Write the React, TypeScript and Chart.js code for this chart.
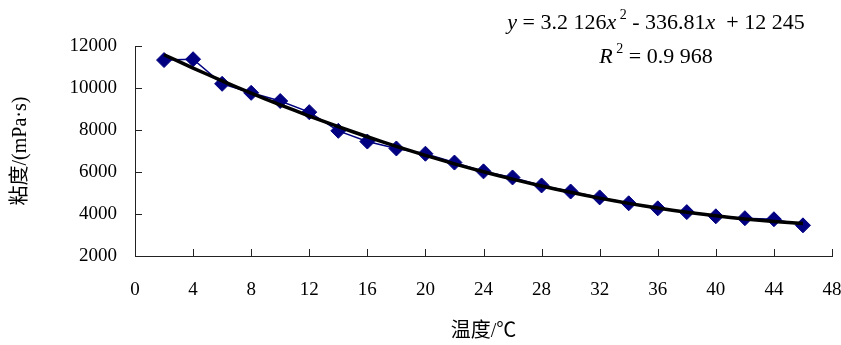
import React, { useEffect, useRef } from "react";
import { Chart, registerables } from "chart.js";

Chart.register(...registerables);

// ---- data ----
const temperatures = [2, 4, 6, 8, 10, 12, 14, 16, 18, 20, 22, 24, 26, 28, 30, 32, 34, 36, 38, 40, 42, 44, 46];
const viscosity = [11330, 11370, 10200, 9770, 9380, 8850, 7960, 7450, 7120, 6870, 6450, 6030, 5740, 5360, 5070, 4790, 4510, 4270, 4090, 3890, 3800, 3750, 3460];
// trendline values (y = 3.2126x^2 - 336.81x + 12245) at each temperature
const trendValues = [11584, 10949, 10340, 9756, 9198, 8666, 8159, 7679, 7223, 6794, 6390, 6012, 5660, 5333, 5032, 4757, 4507, 4283, 4085, 3913, 3766, 3644, 3550];
const xTickValues = [0, 4, 8, 12, 16, 20, 24, 28, 32, 36, 40, 44, 48];
const yTickValues = [2000, 4000, 6000, 8000, 10000, 12000];

const xTitle = "温度/℃";
const yTitle = "粘度/(mPa·s)";
const equationLine1 = [
  { t: "y", it: true },
  { t: " = 3.2 126" },
  { t: "x", it: true },
  { t: " 2", sup: true },
  { t: " - 336.81" },
  { t: "x", it: true },
  { t: "  + 12 245" },
];
const equationLine2 = [
  { t: "R", it: true },
  { t: " 2", sup: true },
  { t: " = 0.9 968" },
];

const SERIF = "'Liberation Serif', 'Times New Roman', serif";
const TITLE_FONT = "'Liberation Serif', 'Noto Sans CJK SC', serif";

const innerTicks = {
  id: "innerTicks",
  afterDraw(chart: any) {
    const { ctx, chartArea, scales } = chart;
    const x = scales.x;
    const y = scales.y;
    ctx.save();
    ctx.strokeStyle = "#222";
    ctx.lineWidth = 1;
    ctx.beginPath();
    x.ticks.forEach((t: any) => {
      const px = Math.round(x.getPixelForValue(t.value)) + 0.5;
      ctx.moveTo(px, chartArea.bottom);
      ctx.lineTo(px, chartArea.bottom - 7);
    });
    y.ticks.forEach((t: any) => {
      const py = Math.round(y.getPixelForValue(t.value)) + 0.5;
      ctx.moveTo(chartArea.left, py);
      ctx.lineTo(chartArea.left + 7, py);
    });
    ctx.stroke();
    ctx.restore();
  },
};

function drawRich(ctx: CanvasRenderingContext2D, parts: any[], cx: number, baseline: number, size: number) {
  const fontFor = (p: any) => {
    if (p.sup) return `${Math.round(size * 0.62)}px ${SERIF}`;
    return `${p.it ? "italic " : ""}${size}px ${SERIF}`;
  };
  let total = 0;
  const widths = parts.map((p) => {
    ctx.font = fontFor(p);
    const w = ctx.measureText(p.t).width;
    total += w;
    return w;
  });
  let xPos = cx - total / 2;
  parts.forEach((p, i) => {
    ctx.font = fontFor(p);
    ctx.fillText(p.t, xPos, p.sup ? baseline - size * 0.45 : baseline);
    xPos += widths[i];
  });
}

const equationLabel = {
  id: "equationLabel",
  afterDraw(chart: any) {
    const { ctx } = chart;
    ctx.save();
    ctx.fillStyle = "#000";
    ctx.textBaseline = "alphabetic";
    ctx.textAlign = "left";
    drawRich(ctx, equationLine1, 656, 29, 22);
    drawRich(ctx, equationLine2, 656, 63, 22);
    ctx.restore();
  },
};

export default function App() {
  const canvasRef = useRef<HTMLCanvasElement | null>(null);

  useEffect(() => {
    if (!canvasRef.current) return;
    const chart = new Chart(canvasRef.current, {
      type: "scatter",
      data: {
        datasets: [
          {
            label: "trend",
            data: temperatures.map((x, i) => ({ x, y: trendValues[i] })),
            showLine: true,
            borderColor: "#000",
            borderWidth: 3.5,
            pointRadius: 0,
            pointHoverRadius: 0,
            tension: 0.3,
          },
          {
            label: "viscosity",
            data: temperatures.map((x, i) => ({ x, y: viscosity[i] })),
            showLine: true,
            borderColor: "#000080",
            borderWidth: 1.5,
            pointStyle: "rectRot",
            pointRadius: 7.5,
            pointBackgroundColor: "#000080",
            pointBorderColor: "#000080",
            pointBorderWidth: 1,
          },
        ],
      },
      options: {
        responsive: false,
        animation: false,
        layout: { padding: { top: 46, right: 9, left: 0, bottom: 0 } },
        plugins: {
          legend: { display: false },
          tooltip: { enabled: false },
        },
        scales: {
          x: {
            type: "linear",
            min: 0,
            max: 48,
            afterBuildTicks: (scale: any) => {
              scale.ticks = xTickValues.map((v) => ({ value: v }));
            },
            afterFit: (scale: any) => {
              scale.height = 89;
              scale.paddingLeft = 0;
              scale.paddingRight = 0;
            },
            grid: { display: false, drawTicks: false },
            border: { display: true, color: "#222", width: 1 },
            ticks: {
              color: "#000",
              padding: 23,
              font: { family: SERIF, size: 19 },
              maxRotation: 0,
              autoSkip: false,
              callback: (v: any) => String(v),
            },
            title: {
              display: true,
              text: xTitle,
              color: "#000",
              font: { family: TITLE_FONT, size: 20 },
              padding: { top: 0, bottom: 1 },
            },
          },
          y: {
            type: "linear",
            min: 2000,
            max: 12000,
            afterBuildTicks: (scale: any) => {
              scale.ticks = yTickValues.map((v) => ({ value: v }));
            },
            afterFit: (scale: any) => {
              scale.width = 135;
              scale.paddingTop = 0;
              scale.paddingBottom = 0;
            },
            grid: { display: false, drawTicks: false },
            border: { display: true, color: "#222", width: 1 },
            ticks: {
              color: "#000",
              padding: 18,
              font: { family: SERIF, size: 19 },
              autoSkip: false,
              callback: (v: any) => String(v),
            },
            title: {
              display: true,
              text: yTitle,
              color: "#000",
              font: { family: TITLE_FONT, size: 20 },
              padding: { top: 9, bottom: 0 },
            },
          },
        },
      },
      plugins: [innerTicks, equationLabel],
    });
    return () => chart.destroy();
  }, []);

  return (
    <div style={{ position: "absolute", left: 0, top: 0, width: 841, height: 345, background: "#fff" }}>
      <canvas ref={canvasRef} width={841} height={345} style={{ display: "block" }} />
    </div>
  );
}
